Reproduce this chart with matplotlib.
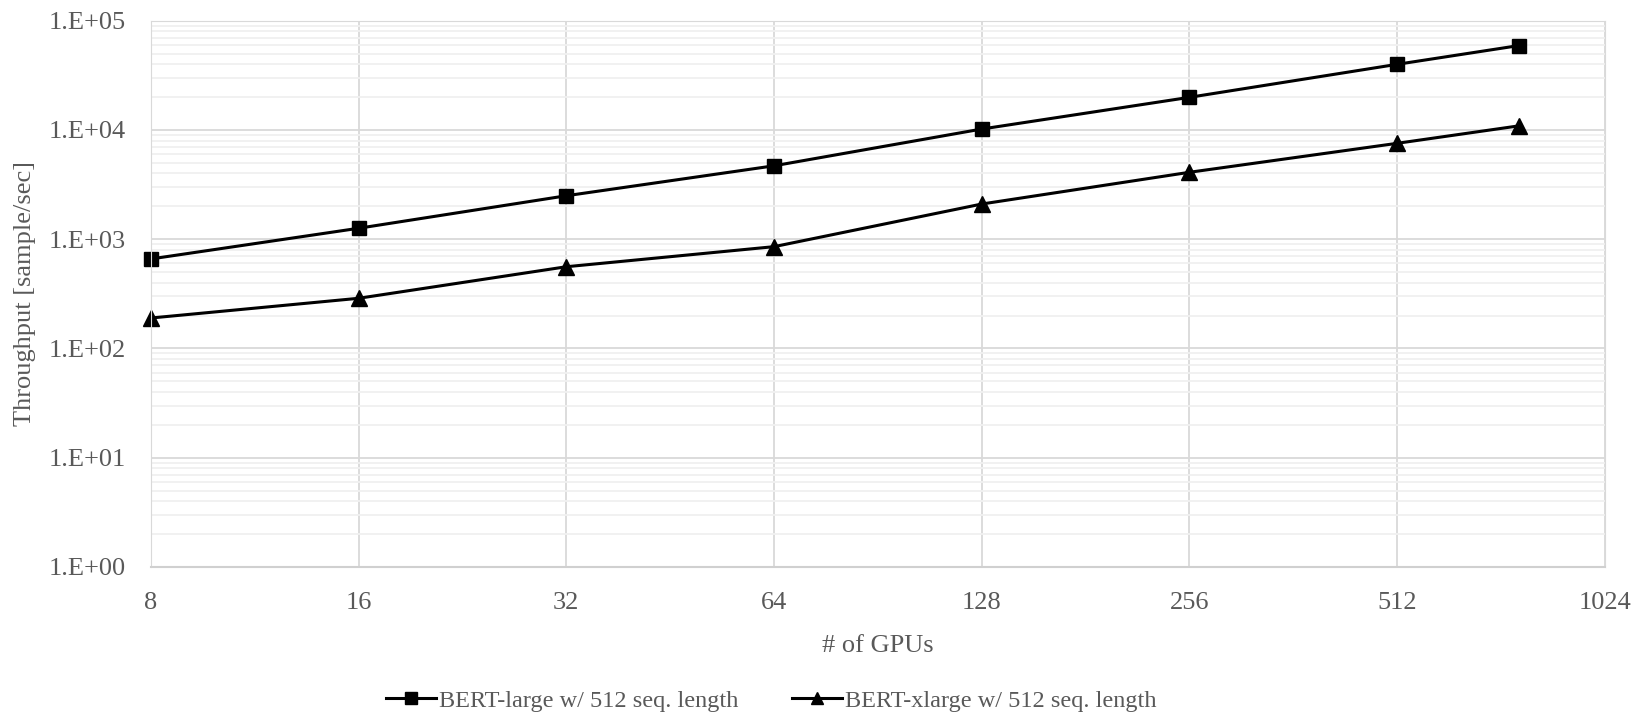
import math
import matplotlib
matplotlib.use('Agg')
import matplotlib.pyplot as plt
from matplotlib.ticker import FixedLocator, LogLocator, NullFormatter, FuncFormatter

# data
gpus = [8, 16, 32, 64, 128, 256, 512, 768]
bert_large = [660, 1260, 2500, 4700, 10200, 19900, 39900, 59200]
bert_xlarge = [190, 288, 560, 855, 2100, 4100, 7550, 10900]
x_ticks = [8, 16, 32, 64, 128, 256, 512, 1024]
y_ticks = [1, 10, 100, 1000, 10000, 100000]

plt.rcParams['font.family'] = ['Liberation Serif', 'DejaVu Serif']
text_color = '#595959'

fig = plt.figure(figsize=(16.39, 7.12), dpi=100)
ax = fig.add_axes([0.0921, 0.2037, 0.8871, 0.7672])

ax.plot(gpus, bert_large, '-', color='black', lw=2.2, marker='s', ms=10.5,
        clip_on=False, label='BERT-large w/ 512 seq. length')
ax.plot(gpus, bert_xlarge, '-', color='black', lw=2.2, marker='^', ms=11,
        clip_on=False, label='BERT-xlarge w/ 512 seq. length')

ax.set_xscale('log', base=2)
ax.set_yscale('log')
ax.set_xlim(8, 1024)
ax.set_ylim(1, 1e5)

ax.xaxis.set_major_locator(FixedLocator(x_ticks))
ax.xaxis.set_minor_locator(FixedLocator([]))
ax.xaxis.set_major_formatter(FuncFormatter(lambda v, p: '%d' % v))
ax.yaxis.set_major_locator(FixedLocator(y_ticks))
ax.yaxis.set_minor_locator(LogLocator(base=10, subs=range(2, 10)))
ax.yaxis.set_minor_formatter(NullFormatter())
ax.yaxis.set_major_formatter(FuncFormatter(lambda v, p: '1.E+%02d' % round(math.log10(v))))

ax.grid(True, which='major', color='#d9d9d9', lw=1.3)
ax.grid(True, which='minor', axis='y', color='#f0f0f0', lw=1.3)
ax.set_axisbelow(True)
for side in ['top', 'right', 'left']:
    ax.spines[side].set_color('#d9d9d9')
ax.spines['bottom'].set_color('#d0d0d0')
ax.spines['bottom'].set_linewidth(1.5)

ax.tick_params(which='both', length=0, colors=text_color, labelsize=19)
ax.tick_params(axis='x', pad=18)
ax.tick_params(axis='y', pad=18)

ax.set_xlabel('# of GPUs', fontsize=19, color=text_color)
ax.set_ylabel('Throughput [sample/sec]', fontsize=19, color=text_color)
ax.xaxis.set_label_coords(0.5, -0.125)
ax.yaxis.set_label_coords(-0.079, 0.5)

leg = fig.legend(loc='center', bbox_to_anchor=(0.4705, 0.016), ncol=2, frameon=False,
                 fontsize=17.5, handlelength=2.05, handletextpad=0.12,
                 columnspacing=2.2, markerscale=0.8)
for t in leg.get_texts():
    t.set_color(text_color)

fig.savefig('out.png', dpi=100)
